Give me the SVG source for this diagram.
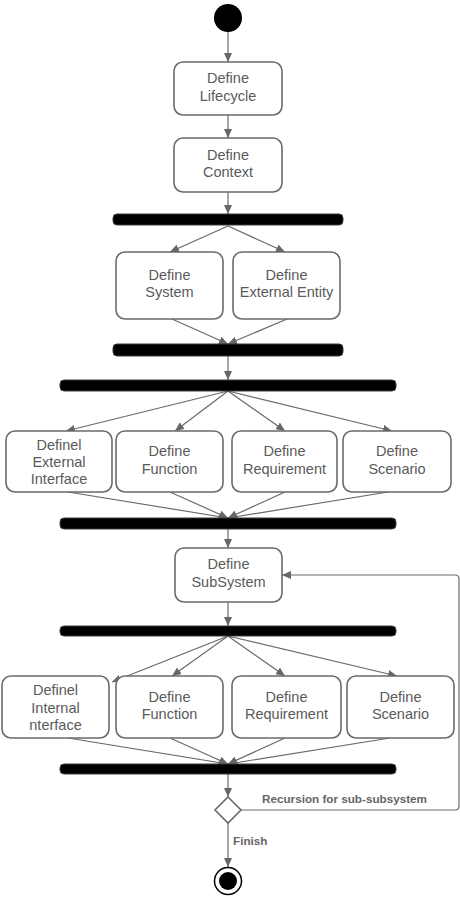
<svg xmlns="http://www.w3.org/2000/svg" width="460" height="898" viewBox="0 0 460 898">
<defs>
<marker id="ah" markerWidth="9" markerHeight="8" refX="9" refY="4" orient="auto" markerUnits="userSpaceOnUse">
<path d="M0,0 L9,4 L0,8 Z" fill="#666"/>
</marker>
<style>
.box{fill:#fff;stroke:#6a6a6a;stroke-width:1.6}
.bar{fill:#000;stroke:#3a3a3a;stroke-width:1}
.t{font-family:"Liberation Sans",Arial,sans-serif;font-size:14.5px;fill:#5a5a5a;text-anchor:middle}
.lbl{font-family:"Liberation Sans",Arial,sans-serif;font-size:11.7px;font-weight:bold;fill:#666}
.c{fill:none;stroke:#6a6a6a;stroke-width:1.2}
.ca{fill:none;stroke:#6a6a6a;stroke-width:1.2;marker-end:url(#ah)}
</style>
</defs>
<rect width="460" height="898" fill="#fff"/>

<g id="connectors">
<path class="ca" d="M228,32 V62"/>
<path class="ca" d="M228,115 V138"/>
<path class="ca" d="M228,192 V214"/>
<path class="ca" d="M228,226 L170,252"/>
<path class="ca" d="M228,226 L285,252"/>
<path class="ca" d="M172,319 L228,344"/>
<path class="ca" d="M287,319 L228,344"/>
<path class="ca" d="M228,356 V380"/>
<path class="ca" d="M228,391 L66,431"/>
<path class="ca" d="M228,391 L175,431"/>
<path class="ca" d="M228,391 L285,431"/>
<path class="ca" d="M228,391 L392,431"/>
<path class="ca" d="M68,492 L228,518"/>
<path class="ca" d="M170,492 L228,518"/>
<path class="ca" d="M285,492 L228,518"/>
<path class="ca" d="M388,492 L228,518"/>
<path class="ca" d="M228,529 V548"/>
<path class="ca" d="M228,602 V626"/>
<path class="ca" d="M228,636 L112,682"/>
<path class="ca" d="M228,636 L172,676"/>
<path class="ca" d="M228,636 L285,676"/>
<path class="ca" d="M228,636 L397,676"/>
<path class="ca" d="M68,738 L228,764"/>
<path class="ca" d="M170,738 L228,764"/>
<path class="ca" d="M285,738 L228,764"/>
<path class="ca" d="M390,738 L228,764"/>
<path class="ca" d="M228,774 V797"/>
<path class="ca" d="M241,810 H455 Q459,810 459,806 V579 Q459,575 455,575 H282"/>
<path class="ca" d="M228,823 V867"/>
<text class="lbl" x="262" y="803">Recursion for sub-subsystem</text>
<text class="lbl" x="233" y="845">Finish</text>
</g>

<g id="start"><circle cx="228" cy="18" r="14" fill="#000"/></g>

<g id="lifecycle">
<rect class="box" x="174" y="62" width="108" height="53" rx="9"/>
<text class="t" x="228" y="83">Define</text>
<text class="t" x="228" y="101">Lifecycle</text>
</g>
<g id="context">
<rect class="box" x="174" y="138" width="108" height="54" rx="9"/>
<text class="t" x="228" y="159.5">Define</text>
<text class="t" x="228" y="177">Context</text>
</g>
<g id="fork1"><rect class="bar" x="113" y="214" width="230" height="11" rx="4"/></g>
<g id="system">
<rect class="box" x="116" y="252" width="107" height="67" rx="9"/>
<text class="t" x="169.5" y="280">Define</text>
<text class="t" x="169.5" y="297">System</text>
</g>
<g id="extentity">
<rect class="box" x="233" y="252" width="107" height="67" rx="9"/>
<text class="t" x="286.5" y="280">Define</text>
<text class="t" x="286.5" y="297">External Entity</text>
</g>
<g id="join1"><rect class="bar" x="113" y="344" width="230" height="12" rx="4"/></g>
<g id="fork2"><rect class="bar" x="60" y="380" width="336" height="11" rx="4"/></g>

<g id="extinterface">
<rect class="box" x="6" y="431" width="106" height="61" rx="9"/>
<text class="t" x="59" y="450">Definel</text>
<text class="t" x="59" y="467">External</text>
<text class="t" x="59" y="484">Interface</text>
</g>
<g id="function1">
<rect class="box" x="116" y="431" width="107" height="61" rx="9"/>
<text class="t" x="169.5" y="456">Define</text>
<text class="t" x="169.5" y="474">Function</text>
</g>
<g id="requirement1">
<rect class="box" x="232" y="431" width="105" height="61" rx="9"/>
<text class="t" x="284.5" y="456">Define</text>
<text class="t" x="284.5" y="474">Requirement</text>
</g>
<g id="scenario1">
<rect class="box" x="343" y="431" width="108" height="61" rx="9"/>
<text class="t" x="397" y="456">Define</text>
<text class="t" x="397" y="474">Scenario</text>
</g>
<g id="join2"><rect class="bar" x="60" y="518" width="336" height="11" rx="4"/></g>

<g id="subsystem">
<rect class="box" x="175" y="548" width="107" height="54" rx="9"/>
<text class="t" x="228.5" y="569">Define</text>
<text class="t" x="228.5" y="587">SubSystem</text>
</g>
<g id="fork3"><rect class="bar" x="60" y="626" width="336" height="10" rx="4"/></g>

<g id="intinterface">
<rect class="box" x="2" y="676" width="107" height="62" rx="9"/>
<text class="t" x="55.5" y="695">Definel</text>
<text class="t" x="55.5" y="713">Internal</text>
<text class="t" x="55.5" y="730">nterface</text>
</g>
<g id="function2">
<rect class="box" x="116" y="676" width="107" height="62" rx="9"/>
<text class="t" x="169.5" y="702">Define</text>
<text class="t" x="169.5" y="719">Function</text>
</g>
<g id="requirement2">
<rect class="box" x="232" y="676" width="109" height="62" rx="9"/>
<text class="t" x="286.5" y="702">Define</text>
<text class="t" x="286.5" y="719">Requirement</text>
</g>
<g id="scenario2">
<rect class="box" x="347" y="676" width="107" height="62" rx="9"/>
<text class="t" x="400.5" y="702">Define</text>
<text class="t" x="400.5" y="719">Scenario</text>
</g>
<g id="join3"><rect class="bar" x="60" y="764" width="336" height="10" rx="4"/></g>

<g id="decision"><path d="M228,797 L241,810 L228,823 L215,810 Z" fill="#fff" stroke="#6a6a6a" stroke-width="1.6"/></g>

<g id="end">
<circle cx="228" cy="881" r="13.5" fill="#fff" stroke="#000" stroke-width="1.5"/>
<circle cx="228" cy="881" r="9" fill="#000"/>
</g>
</svg>
